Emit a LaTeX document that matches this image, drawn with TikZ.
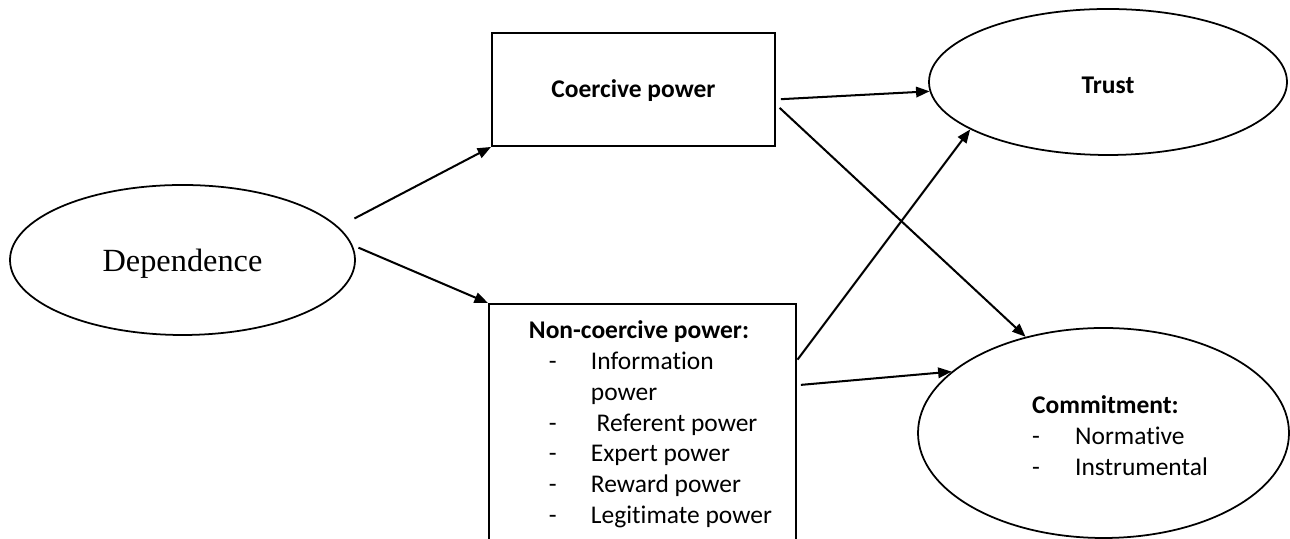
\documentclass[tikz,border=0pt]{standalone}
\usepackage{fontspec}
\setmainfont{Carlito}[Ligatures={NoCommon,NoContextual}]
\newfontfamily\timesfont{Liberation Serif}
\usetikzlibrary{arrows.meta,shapes.geometric}

\begin{document}
\begin{tikzpicture}[
    oval/.style={draw, ellipse, line width=1pt, inner sep=0pt},
    box/.style={draw, rectangle, line width=1.1pt, inner sep=0pt},
    arr/.style={line width=1.15pt, -{Triangle[length=0.27cm,width=0.21cm]}}
  ]
\useasboundingbox (0,0) rectangle (25.8,10.78);
\fontsize{14.5}{17.6}\selectfont

% left oval
\node[oval, minimum width=6.9cm, minimum height=3cm] (dep) at (3.65,5.58)
  {\raisebox{-0.08cm}[\height][\depth]{\timesfont\fontsize{18.4}{22}\selectfont Dependence}};

% the two powers
\node[box, minimum width=5.66cm, minimum height=2.26cm] (coer) at (12.67,8.99)
  {\raisebox{-0.03cm}[\height][\depth]{\textbf{Coercive power}}};
\node[box, anchor=north west] (noncoer) at (9.76,4.72)
  {\begin{minipage}[t][5.14cm][t]{6.14cm}
   \hspace*{0.8cm}\rule{0pt}{19.5pt}\textbf{Non-coercive power:}\\
   \hspace*{1.2cm}\makebox[0.84cm][l]{-}Information\\
   \hspace*{2.04cm}power\\
   \hspace*{1.2cm}\makebox[0.84cm][l]{-} Referent power\\
   \hspace*{1.2cm}\makebox[0.84cm][l]{-}Expert power\\
   \hspace*{1.2cm}\makebox[0.84cm][l]{-}Reward power\\
   \hspace*{1.2cm}\makebox[0.84cm][l]{-}Legitimate power
   \end{minipage}};

% outcomes
\node[oval, minimum width=7.16cm, minimum height=2.92cm] (trust) at (22.16,9.14)
  {\raisebox{-0.07cm}[\height][\depth]{\textbf{Trust}}};
\node[oval, minimum width=7.42cm, minimum height=4.2cm] (commit) at (22.07,2.12)
  {\hspace*{0.66cm}\raisebox{-0.1cm}[\height][\depth]{\begin{tabular}{@{}p{0.86cm}@{}l@{}}
   \multicolumn{2}{@{}l@{}}{\textbf{Commitment:}}\\
   - & Normative\\
   - & Instrumental
   \end{tabular}}};

\draw[arr, shorten <=0.36cm] (dep.12) -- (coer.south west);
\draw[arr, shorten <=0.13cm] (dep.5.2) -- (noncoer.north west);

\draw[arr, shorten <=0.1cm] (coer.-4.6) -- (trust.183.5);
\draw[arr, shorten <=0.1cm] (coer.-6.3) -- (commit.129);

\draw[arr, shorten <=0.02cm] (noncoer.25.4) -- (trust.199.4);
\draw[arr, shorten <=0.08cm] (noncoer.17.45) -- (commit.158);

\end{tikzpicture}
\end{document}
